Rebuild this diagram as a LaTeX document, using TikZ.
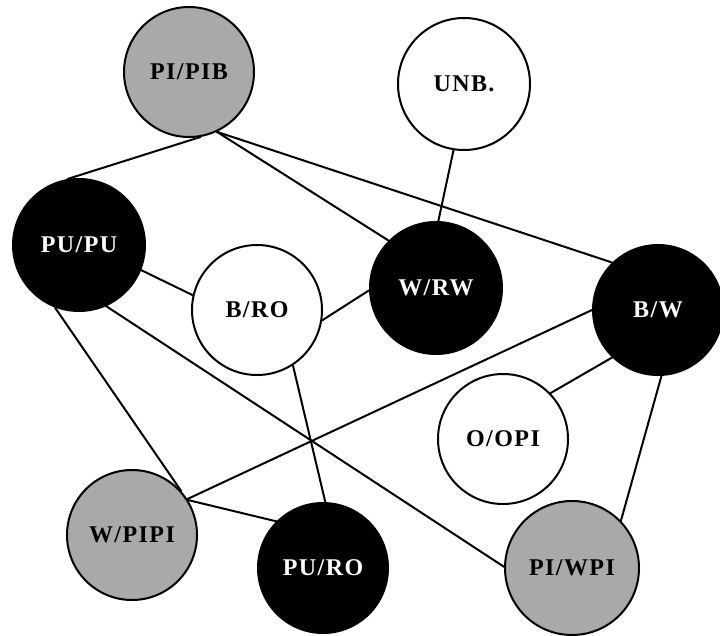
\documentclass[tikz,border=0pt]{standalone}
\usepackage{fontspec}
\setmainfont{Liberation Serif}[LetterSpace=6]
\definecolor{midgrey}{RGB}{169,169,169}
\begin{document}
\begin{tikzpicture}[x=1pt,y=-1pt,
  vtx/.style={circle,draw=black,line width=2pt,inner sep=0pt,minimum size=130pt,
    font=\fontsize{24}{24}\selectfont\bfseries},
  whitev/.style={vtx,fill=white,text=black},
  greyv/.style={vtx,fill=midgrey,text=black},
  blackv/.style={vtx,fill=black,text=white},
  edge/.style={line width=2pt,line cap=round}]
\useasboundingbox (0,0) rectangle (720,635);
\node[greyv]  (pib)   at (189,72)  {PI/PIB};
\node[whitev,minimum size=132pt] (unb) at (464,84) {UNB.};
\node[blackv,minimum size=132pt] (pupu) at (79,245) {PU/PU};
\node[whitev] (bro)   at (257,310) {B/RO};
\node[blackv,minimum size=132pt] (wrw) at (436,288) {W/RW};
\node[blackv] (bw)    at (658,310) {B/W};
\node[whitev] (oopi)  at (503,439) {O/OPI};
\node[greyv]  (wpipi) at (132,535) {W/PIPI};
\node[blackv] (puro)  at (323,568) {PU/RO};
\node[greyv,minimum size=134pt] (piwpi) at (572,568) {PI/WPI};
\draw[edge] (pib.-80) -- (pupu.100);
\draw[edge] (pib.-65) -- (wrw.135);
\draw[edge] (pib.-65) -- (bw.134);
\draw[edge] (unb.-99) -- (wrw.88);
\draw[edge] (pupu.-22) -- (bro.167);
\draw[edge] (pupu.-111) -- (wpipi.42);
\draw[edge] (pupu.-66) -- (piwpi.179);
\draw[edge] (bro.-9) -- (wrw.182);
\draw[edge] (bro.-57) -- (puro.88);
\draw[edge] (bw.180) -- (wpipi.33);
\draw[edge] (bw.-134) -- (oopi.44);
\draw[edge] (bw.-87) -- (piwpi.44);
\draw[edge] (wpipi.32) -- (puro.135);
\end{tikzpicture}
\end{document}
